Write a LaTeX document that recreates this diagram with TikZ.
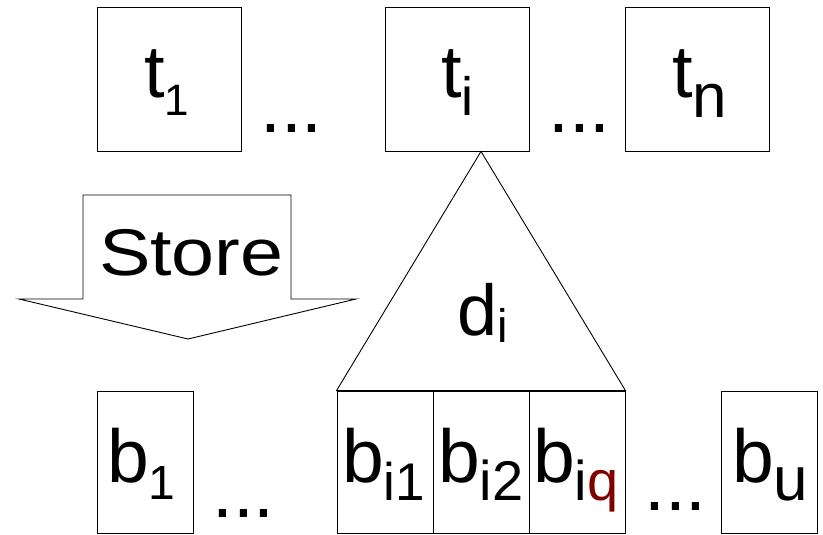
\documentclass[tikz,border=0pt]{standalone}
\usepackage{fontspec}
\setmainfont{Liberation Sans}
\definecolor{darkred}{RGB}{128,0,0}
\newcommand{\msub}[5]{{\fontsize{#1}{#1}\selectfont #4}\raisebox{-#3pt}{\fontsize{#2}{#2}\selectfont #5}}
\begin{document}
\begin{tikzpicture}[x=1pt,y=-1pt,
  tbox/.style={draw=black, line width=0.9pt, minimum width=144pt, minimum height=144pt, inner sep=0pt},
  bbox/.style={draw=black, line width=0.9pt, minimum width=96pt, minimum height=142.5pt, inner sep=0pt},
  lbl/.style={anchor=base west, inner sep=0pt, outer sep=0pt},
  dots/.style={anchor=base west, inner sep=0pt, font=\fontsize{75}{75}\selectfont},
  shape line/.style={draw=black, line width=0.9pt, line join=miter}]
\useasboundingbox (0,0) rectangle (823,535);
% top boxes
\node[tbox] (t1) at (169,79) {};
\node[tbox] (ti) at (457,79) {};
\node[tbox] (tn) at (697,79) {};
\node[lbl] (t1l) at (144,98) {\msub{74}{44}{18}{t}{1}};
\node[lbl] (til) at (441,98) {\msub{74}{54}{18}{t}{i}};
\node[lbl] (tnl) at (672,98) {\msub{74}{62}{20}{t}{n}};
\node[dots] (dt1) at (260,132) {...};
\node[dots] (dt2) at (548,132) {...};
% bottom boxes
\node[bbox] (b1) at (145,462.25) {};
\node[bbox] (bi1) at (385,462.25) {};
\node[bbox] (bi2) at (481,462.25) {};
\node[bbox] (biq) at (577,462.25) {};
\node[bbox] (bu) at (769,462.25) {};
\node[lbl] (b1l) at (107,482) {\msub{75}{48}{17}{b}{1}};
\node[lbl] (bi1l) at (342,482) {\msub{75}{53}{18}{b}{i1}};
\node[lbl] (bi2l) at (438,482) {\msub{75}{56}{18}{b}{i2}};
\node[lbl] (biql) at (533,482) {\msub{75}{56}{18}{b}{i\textcolor{darkred}{q}}};
\node[lbl] (bul) at (732,482) {\msub{75}{62}{18}{b}{u}};
\node[dots] (db1) at (212,517) {...};
\node[dots] (db2) at (644,510) {...};
% triangle
\draw[shape line] (bi2.north |- ti.south) -- (bi1.north west) -- (biq.north east) -- cycle;
\node[lbl] (dil) at (457.5,335) {\msub{72}{47}{7}{d}{i}};
% store arrow
\draw[shape line] (83,195) -- (291,195) -- (291,299) -- (356,299) -- (188,339) -- (19,299) -- (83,299) -- cycle;
\node[lbl] (store) at (99,275) {\scalebox{1.17}[1]{\fontsize{66}{66}\selectfont Store}};
\end{tikzpicture}
\end{document}
